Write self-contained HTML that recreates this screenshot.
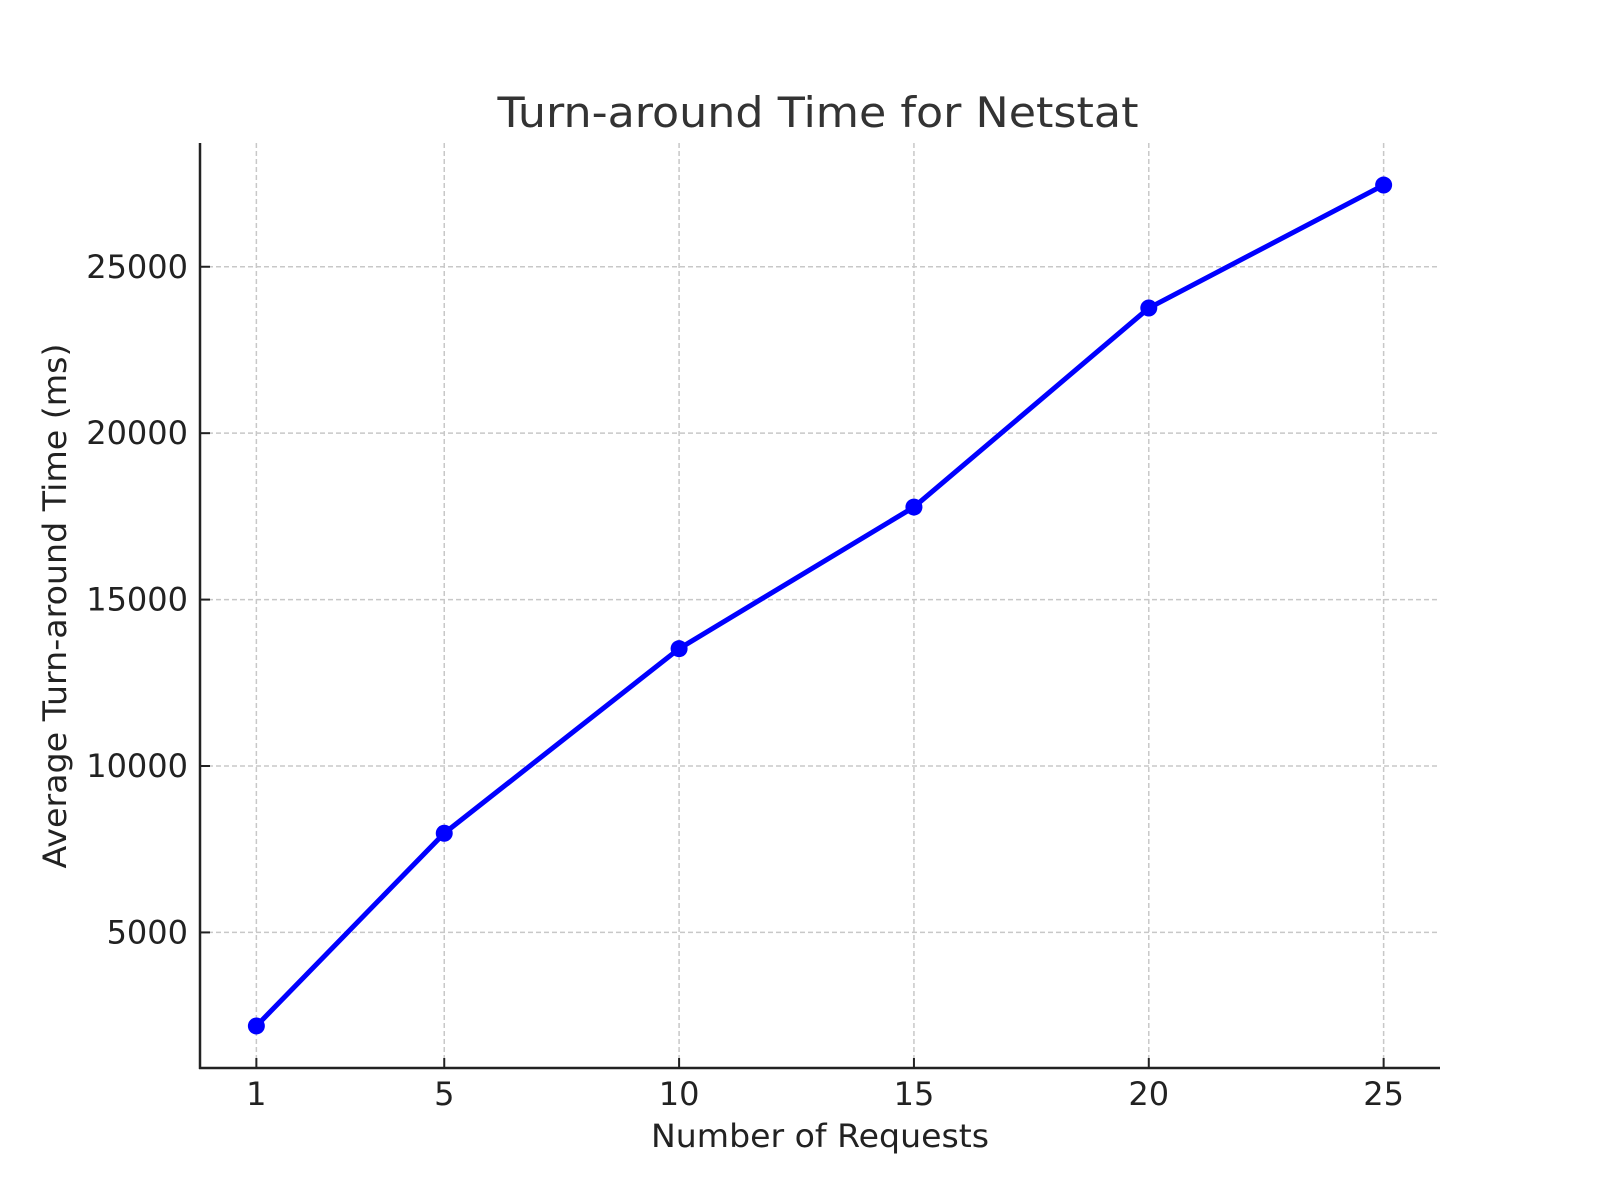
<!DOCTYPE html>
<html><head><meta charset="utf-8"><style>body{margin:0;background:#fff}svg{display:block}text{font-family:"DejaVu Sans","Liberation Sans",sans-serif}</style></head>
<body>
<svg id="chart" width="1600" height="1200" viewBox="0 0 1600 1200">
<text x="818" y="127" font-size="42" fill="#333" text-anchor="middle" textLength="641" lengthAdjust="spacingAndGlyphs">Turn-around Time for Netstat</text>
<text x="820" y="1147" font-size="32" fill="#222" text-anchor="middle" textLength="338" lengthAdjust="spacingAndGlyphs">Number of Requests</text>
<text transform="translate(66,606) rotate(-90)" font-size="32" fill="#222" text-anchor="middle" textLength="525" lengthAdjust="spacingAndGlyphs">Average Turn-around Time (ms)</text>
<g id="grid"></g><g id="axes"></g><g id="series"></g>
</svg>
<script>
const categories = [1, 5, 10, 15, 20, 25];
const seriesValues = [2190, 7980, 13525, 17780, 23760, 27455];
const yTicks = [5000, 10000, 15000, 20000, 25000];
const xTickLabels = ["1", "5", "10", "15", "20", "25"];
const yTickLabels = ["5000", "10000", "15000", "20000", "25000"];

const L = 200, R = 1440, T = 143, B = 1068;
const xMin = -0.2, xMax = 26.2;
const span = Math.max(...seriesValues) - Math.min(...seriesValues);
const yMin = Math.min(...seriesValues) - 0.05 * span, yMax = Math.max(...seriesValues) + 0.05 * span;
const xs = v => L + (v - xMin) / (xMax - xMin) * (R - L);
const ys = v => B - (v - yMin) / (yMax - yMin) * (B - T);
const NS = "http://www.w3.org/2000/svg";
function mk(tag, attrs, parent) { const e = document.createElementNS(NS, tag); for (const k in attrs) e.setAttribute(k, attrs[k]); parent.appendChild(e); return e; }
const grid = document.getElementById('grid'), axes = document.getElementById('axes'), series = document.getElementById('series');

categories.forEach((c, i) => {
  const x = xs(c);
  const g = mk('line', {x1: x, x2: x, y1: T, y2: B, stroke: '#c8c8c8', 'stroke-width': 1.5, 'stroke-dasharray': '5,3'}, grid);
  
  
  const t = mk('line', {x1: x, x2: x, y1: B, y2: B - 10, stroke: '#222', 'stroke-width': 2}, axes);
  
  
  const lb = mk('text', {x: x, y: 1105, 'font-size': 32, fill: '#222', 'text-anchor': 'middle'}, axes);
  lb.textContent = xTickLabels[i];
  
  
});
yTicks.forEach((v, i) => {
  const y = ys(v);
  const g = mk('line', {x1: L, x2: R, y1: y, y2: y, stroke: '#c8c8c8', 'stroke-width': 1.5, 'stroke-dasharray': '5,3'}, grid);
  
  
  const t = mk('line', {x1: L, x2: L + 10, y1: y, y2: y, stroke: '#222', 'stroke-width': 2}, axes);
  
  
  const lb = mk('text', {x: 188, y: y + 11, 'font-size': 32, fill: '#222', 'text-anchor': 'end'}, axes);
  lb.textContent = yTickLabels[i];
  
  
});
const ya = mk('line', {x1: L, x2: L, y1: T, y2: B + 1, stroke: '#222', 'stroke-width': 2.5}, axes);


const xa = mk('line', {x1: L - 1, x2: R, y1: B, y2: B, stroke: '#222', 'stroke-width': 2.5}, axes);



const pts = categories.map((c, i) => xs(c) + ',' + ys(seriesValues[i])).join(' ');
const pl = mk('polyline', {points: pts, fill: 'none', stroke: '#0000ff', 'stroke-width': 5, 'stroke-linejoin': 'round'}, series);


categories.forEach((c, i) => {
  const p = mk('circle', {cx: xs(c), cy: ys(seriesValues[i]), r: 8.5, fill: '#0000ff'}, series);
  
  
});
</script>
</body></html>
